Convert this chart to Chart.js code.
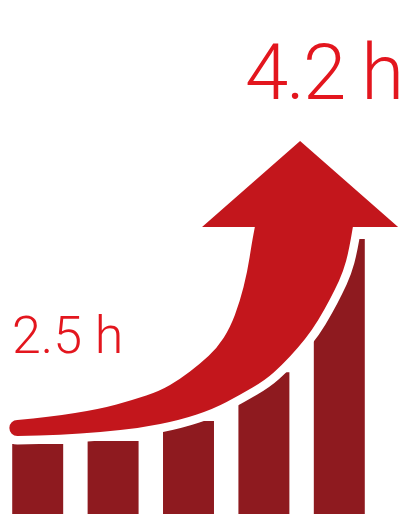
<!DOCTYPE html>
<html>
<head>
<meta charset="utf-8">
<script src="https://cdn.jsdelivr.net/npm/chart.js@4/dist/chart.umd.min.js"></script>
<style>
  html, body { margin: 0; padding: 0; background: #ffffff; }
  #caja { width: 409px; height: 514px; position: relative; }
</style>
</head>
<body>
<div id="caja"><canvas id="grafico"></canvas></div>
<script>
// Datos de las barras (unidades arbitrarias, 0-100 de alto)
const categorias = ['1', '2', '3', '4', '5'];
const valores = [13.6, 14.2, 18.1, 27.6, 53.5];
const etiquetasHoras = ['2.5 h', '4.2 h'];

// Contorno de la flecha en unidades de datos [indice, valor]
const bordeSuperior = [
    [-0.27, 18.29], [0.16, 18.87], [0.83, 20.43], [1.26, 22.18], [1.62, 23.93],
    [1.89, 26.26], [2.15, 29.18], [2.38, 32.30], [2.55, 36.19], [2.68, 41.25],
    [2.78, 47.08], [2.84, 52.72], [2.88, 55.84]
];
const puntaFlecha = [[2.18, 55.84], [3.48, 72.57], [4.78, 55.84], [4.18, 55.84]];
const bordeInferior = [
    [4.18, 55.84], [4.13, 51.36], [4.05, 47.08], [3.94, 43.58], [3.80, 39.69],
    [3.64, 35.80], [3.45, 32.30], [3.24, 28.99], [3.02, 26.07], [2.68, 23.15],
    [2.33, 20.43], [1.89, 18.29], [1.36, 16.73], [0.83, 15.95], [0.30, 15.37],
    [-0.27, 15.18]
];

// curva suave pasando por los puntos medios
function curvaSuave(ctx, pts) {
    ctx.lineTo(pts[0][0], pts[0][1]);
    for (let i = 1; i < pts.length - 1; i++) {
        const mx = (pts[i][0] + pts[i + 1][0]) / 2;
        const my = (pts[i][1] + pts[i + 1][1]) / 2;
        ctx.quadraticCurveTo(pts[i][0], pts[i][1], mx, my);
    }
    const ult = pts[pts.length - 1];
    ctx.lineTo(ult[0], ult[1]);
}

const pluginFlecha = {
    id: 'flecha',
    afterDatasetsDraw(chart) {
        const ctx = chart.ctx;
        const x = chart.scales.x;
        const y = chart.scales.y;
        const aPx = p => [x.getPixelForValue(p[0]), y.getPixelForValue(p[1])];

        const arriba = bordeSuperior.map(aPx);
        const abajo = bordeInferior.map(aPx);
        const punta = puntaFlecha.map(aPx);

        const colaArriba = arriba[0];
        const colaAbajo = abajo[abajo.length - 1];
        const cx = (colaArriba[0] + colaAbajo[0]) / 2;
        const cy = (colaArriba[1] + colaAbajo[1]) / 2;
        const r = (colaAbajo[1] - colaArriba[1]) / 2;

        ctx.save();
        ctx.beginPath();
        ctx.moveTo(colaAbajo[0], colaAbajo[1]);
        ctx.arc(cx, cy, r, Math.PI / 2, Math.PI * 1.5, false);
        curvaSuave(ctx, arriba);
        punta.forEach(p => ctx.lineTo(p[0], p[1]));
        curvaSuave(ctx, abajo);
        ctx.closePath();
        ctx.lineJoin = 'round';
        ctx.strokeStyle = '#ffffff';
        ctx.lineWidth = 17;
        ctx.stroke();
        ctx.fillStyle = '#c3161c';
        ctx.fill();

        // textos de horas
        ctx.fillStyle = '#e3161e';
        ctx.textBaseline = 'alphabetic';
        ctx.textAlign = 'left';
        ctx.font = '300 52px Roboto';
        ctx.fillText(etiquetasHoras[0], 12, 353);
        ctx.font = '300 78px Roboto';
        ctx.letterSpacing = '-2px';
        ctx.fillText(etiquetasHoras[1], 245, 99);
        ctx.restore();
    }
};

const ctx = document.getElementById('grafico').getContext('2d');
new Chart(ctx, {
    type: 'bar',
    data: {
        labels: categorias,
        datasets: [
            {
                data: valores,
                backgroundColor: '#8e1a1f',
                borderWidth: 0,
                categoryPercentage: 1,
                barPercentage: 0.676
            }
        ]
    },
    options: {
        responsive: true,
        maintainAspectRatio: false,
        animation: false,
        layout: {
            padding: { left: 0, right: 32, top: 0, bottom: 0 }
        },
        plugins: {
            legend: { display: false },
            tooltip: { enabled: false },
            title: { display: false }
        },
        scales: {
            x: { display: false, grid: { display: false } },
            y: { display: false, min: 0, max: 100, grid: { display: false } }
        }
    },
    plugins: [pluginFlecha]
});
</script>
</body>
</html>
